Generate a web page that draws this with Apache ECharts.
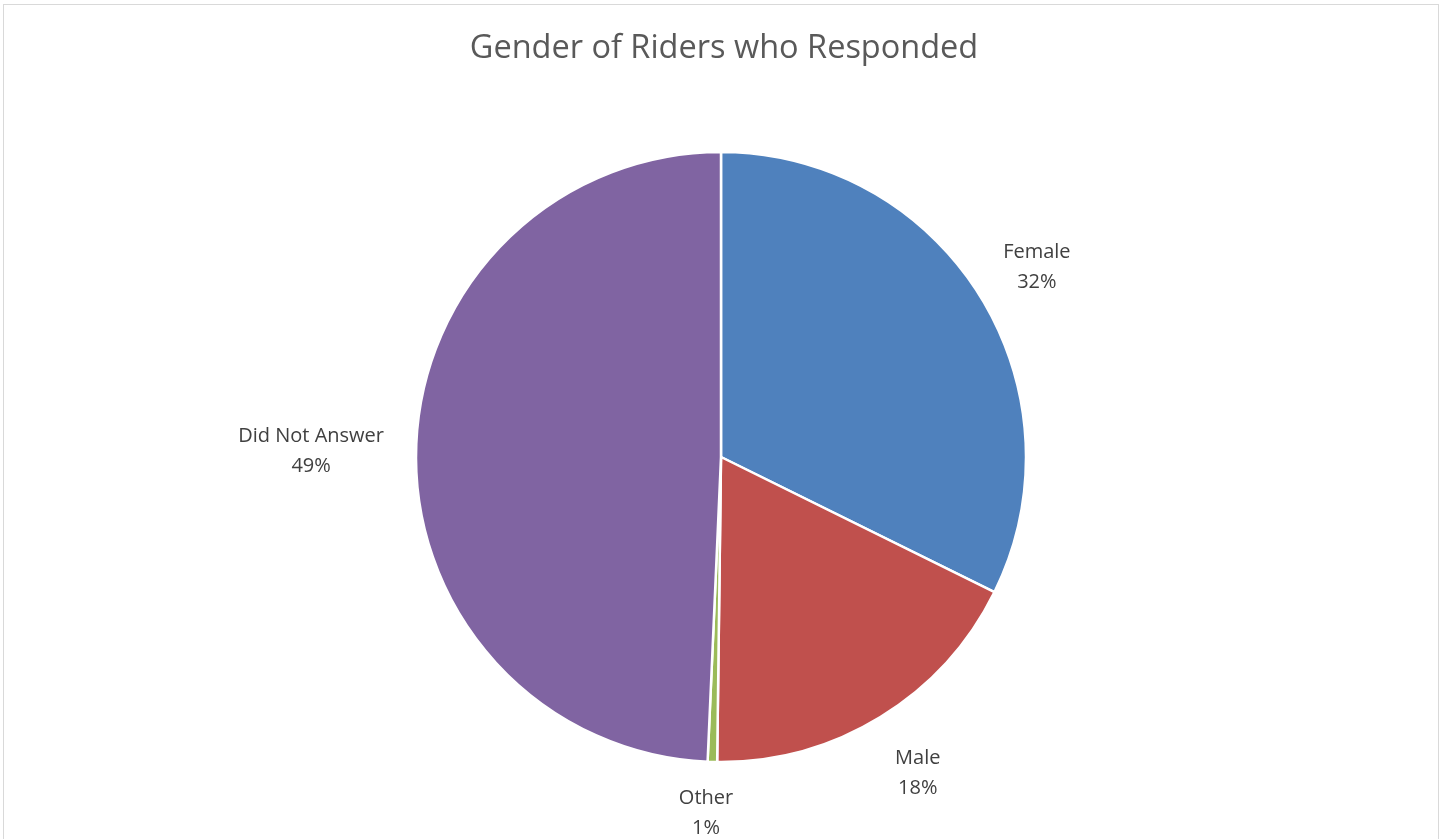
<!DOCTYPE html>
<html>
<head>
<meta charset="utf-8">
<script src="https://cdn.jsdelivr.net/npm/echarts@6/dist/echarts.min.js"></script>
<style>
html,body{margin:0;padding:0;background:#fff;overflow:hidden;}
#frame{position:absolute;left:3px;top:4px;width:1436px;height:900px;border:1px solid #d9d9d9;box-sizing:border-box;}
#chart{position:absolute;left:0;top:0;width:1448px;height:839px;}
</style>
</head>
<body>
<div id="frame"></div>
<div id="chart"></div>
<script>
var titleText = 'Gender of Riders who Responded';
var categories = ['Female', 'Male', 'Other', 'Did Not Answer'];
var values = [32.3, 17.9, 0.5, 49.3];
var colors = ['#4f81bd', '#c0504d', '#9bbb59', '#8064a2'];
var labelLengths = [61, 62, 48, 100];

var chart = echarts.init(document.getElementById('chart'));
chart.setOption({
  animation: false,
  title: {
    text: titleText,
    left: 'center',
    top: 27,
    textStyle: { fontFamily: 'Open Sans', fontSize: 32.5, fontWeight: 'normal', color: '#595959' }
  },
  series: [{
    type: 'pie',
    center: [721, 457],
    radius: 305,
    startAngle: 90,
    clockwise: true,
    percentPrecision: 0,
    avoidLabelOverlap: false,
    itemStyle: { borderColor: '#ffffff', borderWidth: 2.5 },
    label: {
      show: true,
      position: 'outside',
      formatter: '{b}\n{d}%',
      fontFamily: 'Open Sans',
      fontSize: 20,
      lineHeight: 30,
      color: '#404040'
    },
    labelLine: { show: false, length2: 0 },
    labelLayout: function () { return { align: 'center', verticalAlign: 'middle', dy: 3 }; },
    emphasis: { disabled: true },
    data: categories.map(function (c, i) {
      return { name: c, value: values[i], itemStyle: { color: colors[i] }, labelLine: { show: false, length: labelLengths[i], length2: 0 } };
    })
  }]
});
</script>
</body>
</html>
